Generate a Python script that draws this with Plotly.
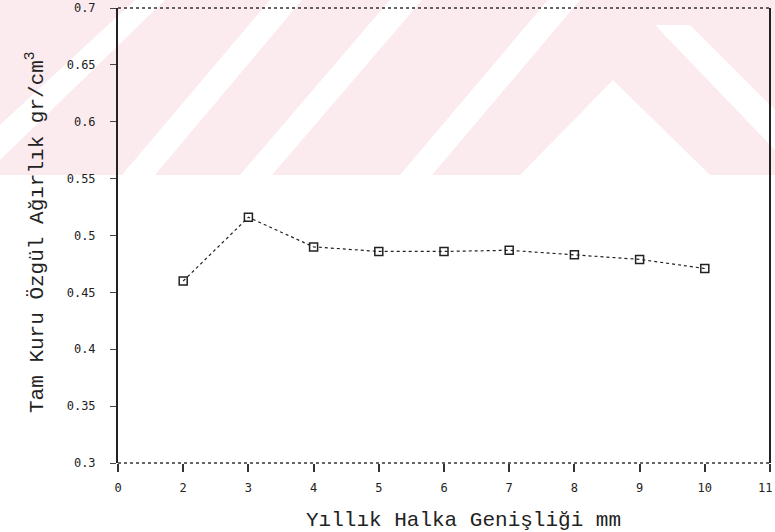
import plotly.graph_objects as go

# ---- data ----
ring_width_mm = [2, 3, 4, 5, 6, 7, 8, 9, 10]
density = [0.460, 0.516, 0.490, 0.486, 0.486, 0.487, 0.483, 0.479, 0.471]

x_tick_vals = [1, 2, 3, 4, 5, 6, 7, 8, 9, 10, 11]
x_tick_text = ["0", "2", "3", "4", "5", "6", "7", "8", "9", "10", "11"]
y_tick_vals = [0.3, 0.35, 0.4, 0.45, 0.5, 0.55, 0.6, 0.65, 0.7]
y_tick_text = ["0.3", "0.35", "0.4", "0.45", "0.5", "0.55", "0.6", "0.65", "0.7"]

x_title = "Yıllık Halka Genişliği mm"
y_title = "Tam Kuru Özgül Ağırlık gr/cm<sup>3</sup>"

# ---- layout geometry ----
W, H = 775, 532
L, R, T, B = 118, 5, 8, 69
PW, PH = W - L - R, H - T - B


def px(x):
    return (x - L) / PW


def py(y):
    return (H - B - y) / PH


def poly(points):
    return "M " + " L ".join(f"{px(a):.4f},{py(b):.4f}" for a, b in points) + " Z"


fig = go.Figure()
fig.add_trace(go.Scatter(
    x=ring_width_mm, y=density, mode="lines+markers",
    line=dict(color="#222", width=1.2, dash="dot"),
    marker=dict(symbol="square-open", size=8, color="#222", line=dict(width=1.5)),
    showlegend=False,
))

shapes = []
# watermark (scan background)
pink = "rgba(250,215,222,0.5)"
shapes.append(dict(type="path", xref="paper", yref="paper", layer="below",
                   path=poly([(0, 0), (W, 0), (W, 175), (0, 175)]),
                   fillcolor=pink, line=dict(width=0)))
white = "white"
for pts in [
    [(135, 0), (165, 0), (0, 160), (0, 125)],
    [(270, 0), (302, 0), (155, 175), (122, 175)],
    [(390, 0), (422, 0), (272, 175), (240, 175)],
    [(548, 0), (580, 0), (432, 175), (400, 175)],
    [(613, 80), (710, 175), (520, 175)],
    [(655, 25), (690, 25), (775, 110), (775, 150)],
]:
    shapes.append(dict(type="path", xref="paper", yref="paper", layer="below",
                       path=poly(pts), fillcolor=white, line=dict(width=0)))

# frame: dotted top & bottom, solid right
shapes.append(dict(type="line", xref="paper", yref="paper", x0=0, x1=1, y0=1, y1=1,
                   line=dict(color="#333", width=1.5, dash="dot")))
shapes.append(dict(type="line", xref="paper", yref="paper", x0=0, x1=1, y0=0, y1=0,
                   line=dict(color="#333", width=1.5, dash="dot")))
shapes.append(dict(type="line", xref="paper", yref="paper", x0=1, x1=1, y0=0, y1=1,
                   line=dict(color="#222", width=2)))

tick_font = dict(family="DejaVu Sans Mono", size=12, color="#222")
# last x label sits at the page edge: draw it right-aligned so it stays whole
shown_x_text = x_tick_text[:-1] + [""]

fig.update_layout(
    width=W, height=H,
    margin=dict(l=L, r=R, t=T, b=B),
    paper_bgcolor="white", plot_bgcolor="rgba(0,0,0,0)",
    shapes=shapes,
    xaxis=dict(range=[1, 11], tickvals=x_tick_vals, ticktext=shown_x_text,
               showgrid=False, zeroline=False, showline=False,
               ticks="outside", ticklen=8, tickwidth=1.5, tickcolor="#333",
               tickfont=tick_font,
               ticklabelstandoff=6, ticklabeloverflow="allow", automargin=False),
    yaxis=dict(range=[0.3, 0.7], tickvals=y_tick_vals, ticktext=y_tick_text,
               showgrid=False, zeroline=False, showline=True, linecolor="#222", linewidth=2,
               ticks="outside", ticklen=6, tickwidth=1, tickcolor="#444",
               tickfont=tick_font,
               ticklabelstandoff=12, automargin=False),
    annotations=[
        dict(text=x_tick_text[-1], xref="paper", yref="paper", x=px(774), y=py(488),
             showarrow=False, font=tick_font, xanchor="right", yanchor="middle"),
        dict(text=x_title, xref="paper", yref="paper", x=px(463), y=py(520),
             showarrow=False, font=dict(family="Liberation Mono", size=21, color="#222"),
             xanchor="center", yanchor="middle"),
        dict(text=y_title, xref="paper", yref="paper", x=px(35), y=py(232),
             showarrow=False, textangle=-90,
             font=dict(family="Liberation Mono", size=21, color="#222"),
             xanchor="center", yanchor="middle"),
    ],
)

fig.write_html("out.html")
